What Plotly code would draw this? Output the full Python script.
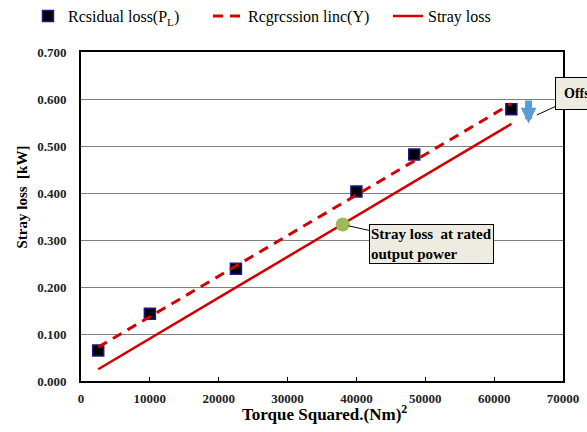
import plotly.graph_objects as go

# Data
torque_sq = [2500, 10000, 22500, 40000, 48400, 62500]
residual_loss = [0.065, 0.143, 0.239, 0.403, 0.482, 0.578]

line_x = [2500, 62500]
regression_y = [0.072, 0.590]
stray_y = [0.025, 0.547]

rated_x = [38000]
rated_y = [0.333]

offset_x = 65000
offset_top = 0.600
offset_bottom = 0.548

x_ticks = [0, 10000, 20000, 30000, 40000, 50000, 60000, 70000]
y_ticks = [0.0, 0.1, 0.2, 0.3, 0.4, 0.5, 0.6, 0.7]

SERIF = "Liberation Serif"
RED = "#D40000"

fig = go.Figure()

fig.add_trace(go.Scatter(
    x=torque_sq, y=residual_loss, mode="markers",
    name="Rcsidual loss(P<sub>L</sub>)",
    marker=dict(symbol="square", size=11, color="black",
                line=dict(color="#1a1a8c", width=1.5)),
))
fig.add_trace(go.Scatter(
    x=line_x, y=regression_y, mode="lines",
    name="Rcgrcssion linc(Y)",
    line=dict(color=RED, width=3, dash="10px,7px"),
))
fig.add_trace(go.Scatter(
    x=line_x, y=stray_y, mode="lines",
    name="Stray loss",
    line=dict(color=RED, width=2.5),
))
fig.add_trace(go.Scatter(
    x=rated_x, y=rated_y, mode="markers", showlegend=False,
    marker=dict(size=14, color="#9BBB59"),
))

# blue offset arrow
fig.add_annotation(
    x=offset_x, y=offset_bottom, ax=offset_x, ay=offset_top,
    xref="x", yref="y", axref="x", ayref="y",
    text="", showarrow=True, arrowhead=2, arrowsize=0.45,
    arrowwidth=7, arrowcolor="#5B9BD5",
)

# callouts
fig.add_annotation(
    x=rated_x[0], y=rated_y[0], xref="x", yref="y",
    text="<b>Stray loss &nbsp;at rated<br>output power</b>",
    align="left", showarrow=True, arrowhead=0, arrowwidth=1,
    arrowcolor="black", ax=89, ay=20, standoff=6,
    bgcolor="#EEECE1", bordercolor="black", borderwidth=1, borderpad=1,
    font=dict(family=SERIF, size=15, color="black"),
)
fig.add_annotation(
    x=66200, y=0.566, xref="x", yref="y",
    text="<b>Offset</b>",
    align="left", showarrow=True, arrowhead=0, arrowwidth=1,
    arrowcolor="black", ax=46, ay=-21,
    bgcolor="#EEECE1", bordercolor="black", borderwidth=1, borderpad=8,
    font=dict(family=SERIF, size=14, color="black"),
)

# axis titles
fig.add_annotation(
    x=0.505, y=-0.098, xref="paper", yref="paper", yanchor="middle",
    text="<b>Torque Squared.(Nm)<sup>2</sup></b>", showarrow=False,
    font=dict(family=SERIF, size=17, color="black"),
)
fig.add_annotation(
    x=-0.123, y=0.56, xref="paper", yref="paper", xanchor="center",
    yanchor="middle", textangle=-90,
    text="<b>Stray loss &nbsp;[kW]</b>", showarrow=False,
    font=dict(family=SERIF, size=15, color="black"),
)

fig.update_xaxes(
    range=[0, 70000], tickvals=x_ticks, tickformat="d",
    ticks="inside", ticklen=4, tickcolor="black",
    showgrid=False, zeroline=False,
    showline=True, linecolor="black", linewidth=2, mirror=True,
    tickfont=dict(family=SERIF, size=13, color="#222", weight="bold"),
    ticklabelstandoff=4,
)
fig.update_yaxes(
    range=[0, 0.7], tickvals=y_ticks, tickformat=".3f",
    ticks="", showgrid=True, gridcolor="#7f7f7f", gridwidth=1,
    zeroline=False,
    showline=True, linecolor="black", linewidth=2, mirror=True,
    tickfont=dict(family=SERIF, size=13, color="#222", weight="bold"),
    ticklabelstandoff=10,
)

fig.update_layout(
    width=587, height=432,
    margin=dict(l=81, r=24, t=52, b=51, autoexpand=False),
    paper_bgcolor="white", plot_bgcolor="white",
    showlegend=True,
    legend=dict(
        orientation="h", xref="paper", yref="paper",
        x=-0.11, xanchor="left", y=1.109, yanchor="middle",
        entrywidth=135,
        font=dict(family=SERIF, size=16, color="black"),
        bgcolor="rgba(0,0,0,0)",
    ),
)

fig.write_html("out.html", config={"displayModeBar": False},
               post_script="document.body.style.margin='0';")
